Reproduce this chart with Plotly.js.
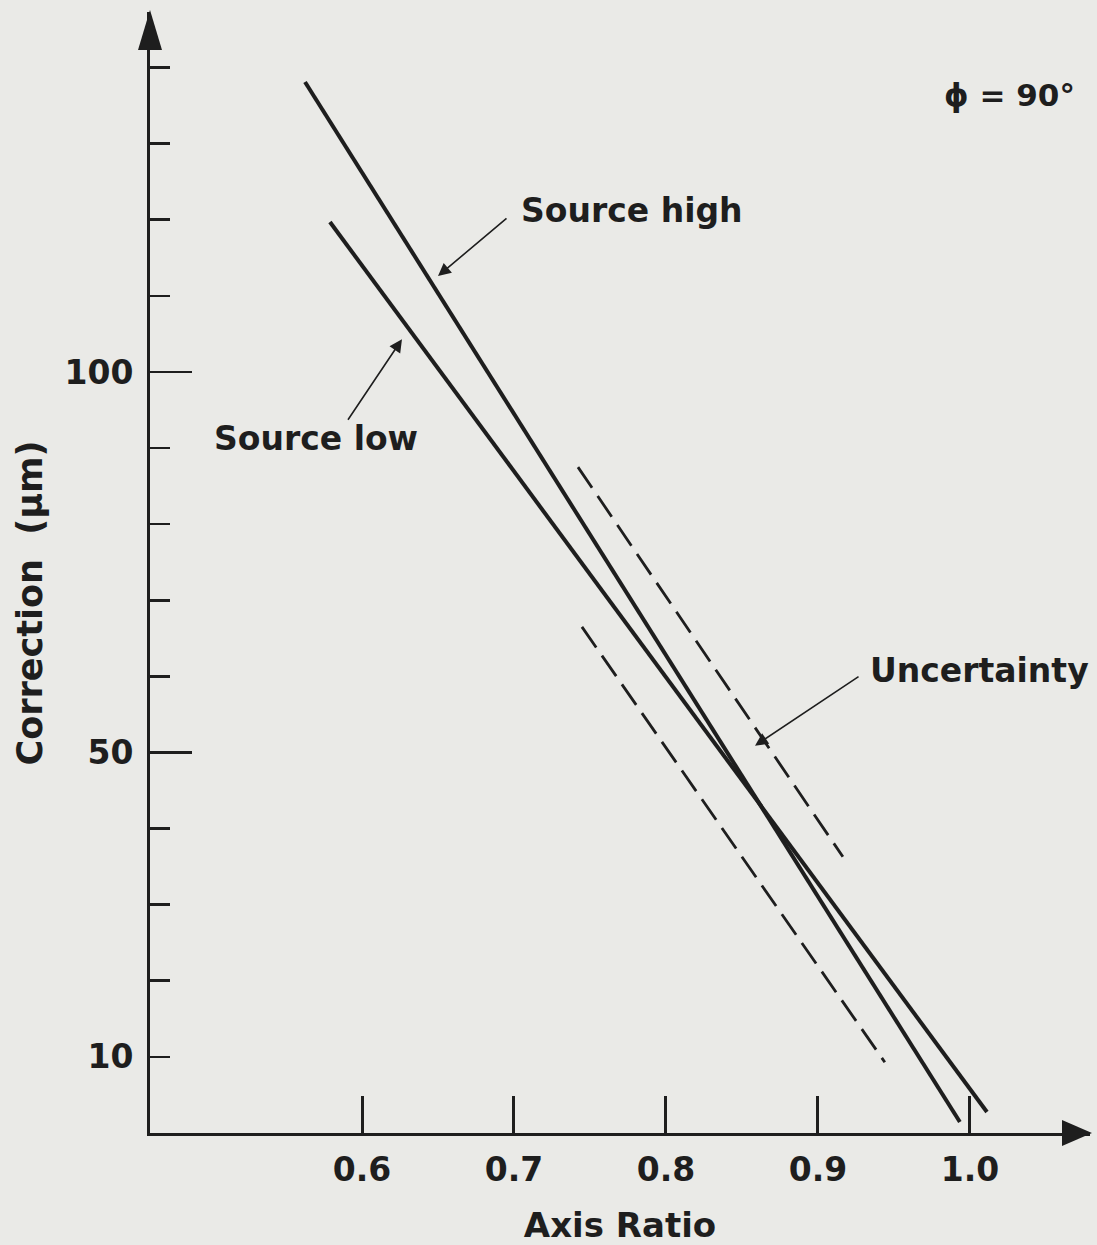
<!DOCTYPE html>
<html>
<head>
<meta charset="utf-8">
<script src="https://cdn.plot.ly/plotly-3.0.1.min.js"></script>
<style>
  html, body { margin: 0; padding: 0; background: #eaeae7; }
  #chart { width: 1097px; height: 1245px; }
</style>
</head>
<body>
<div id="chart"></div>
<script>
// ---- data ----
const sourceHighX = [0.5625, 0.9934];
const sourceHighY = [138.1, 1.45];
const sourceLowX = [0.5789, 1.0112];
const sourceLowY = [119.7, 2.76];
const uncertaintyUpperX = [0.7421, 0.9164];
const uncertaintyUpperY = [87.5, 36.3];
const uncertaintyLowerX = [0.7447, 0.9440];
const uncertaintyLowerY = [66.5, 9.3];

const xTickVals = [0.6, 0.7, 0.8, 0.9, 1.0];
const xTickText = ['0.6', '0.7', '0.8', '0.9', '1.0'];
const yLabelVals = [10, 50, 100];
const yLongTickVals = [50, 100];

const labelSourceHigh = 'Source high';
const labelSourceLow = 'Source low';
const labelUncertainty = 'Uncertainty';
const labelPhi = '\u03D5 = 90\u00B0';
const xTitle = 'Axis Ratio';
const yTitle = 'Correction\u00A0\u00A0(\u03BCm)\u00A0\u00A0\u00A0\u00A0\u00A0\u200B';

// ---- styling ----
const ink = '#1e1e1e';
const fontBase = { family: 'DejaVu Sans, Verdana, sans-serif', color: ink, weight: 'bold' };
const xRange = [0.4605, 1.079];
const yRange = [0, 147.3];

const traces = [
  { x: sourceHighX, y: sourceHighY, mode: 'lines', name: labelSourceHigh,
    line: { color: ink, width: 4 }, hoverinfo: 'skip' },
  { x: sourceLowX, y: sourceLowY, mode: 'lines', name: labelSourceLow,
    line: { color: ink, width: 4 }, hoverinfo: 'skip' },
  { x: uncertaintyUpperX, y: uncertaintyUpperY, mode: 'lines', name: labelUncertainty,
    line: { color: ink, width: 2.8, dash: '25px,10px' }, hoverinfo: 'skip', yaxis: 'y2' },
  { x: uncertaintyLowerX, y: uncertaintyLowerY, mode: 'lines', name: labelUncertainty,
    line: { color: ink, width: 2.8, dash: '25px,10px' }, hoverinfo: 'skip', yaxis: 'y2' }
];

function arrowAnn(xh, yh, ax, ay) {
  return { x: xh, y: yh, xref: 'x', yref: 'y', ax: ax, ay: ay, text: '',
    showarrow: true, arrowhead: 2, arrowsize: 1.6, arrowwidth: 1.6, arrowcolor: ink,
    font: { size: 1 } };
}
function textAnn(x, y, txt, size) {
  return { x: x, y: y, xref: 'x', yref: 'y', text: txt, showarrow: false,
    xanchor: 'center', yanchor: 'middle', font: Object.assign({}, fontBase, { size: size }) };
}

const layout = {
  width: 1097, height: 1245, autosize: false,
  margin: { l: 150, r: 7, t: 12, b: 112, pad: 0 },
  paper_bgcolor: '#eaeae7', plot_bgcolor: '#eaeae7',
  showlegend: false,
  font: Object.assign({}, fontBase, { size: 33 }),
  xaxis: {
    range: xRange, showgrid: false, zeroline: false,
    showline: true, linecolor: ink, linewidth: 3,
    tickmode: 'array', tickvals: xTickVals, ticktext: xTickText,
    ticks: 'inside', ticklen: 37, tickwidth: 3, tickcolor: ink,
    ticklabelstandoff: 5,
    tickfont: Object.assign({}, fontBase, { size: 33 }),
    title: { text: xTitle, font: Object.assign({}, fontBase, { size: 34 }), standoff: 29 }
  },
  yaxis: {
    range: yRange, showgrid: false, zeroline: false,
    showline: true, linecolor: ink, linewidth: 3,
    tickmode: 'array', tickvals: yLabelVals,
    ticks: 'inside', ticklen: 20, tickwidth: 2.6, tickcolor: ink,
    ticklabelstandoff: 7,
    tickfont: Object.assign({}, fontBase, { size: 33 }),
    minor: { tick0: 0, dtick: 10, ticks: 'inside', ticklen: 20, tickwidth: 2.6, tickcolor: ink, showgrid: false },
    title: { text: yTitle, font: Object.assign({}, fontBase, { size: 35 }), standoff: 12 }
  },
  yaxis2: {
    range: yRange, overlaying: 'y', anchor: 'x', side: 'left',
    showgrid: false, zeroline: false, showline: false,
    tickmode: 'array', tickvals: yLongTickVals, showticklabels: false,
    ticks: 'inside', ticklen: 42, tickwidth: 2.6, tickcolor: ink
  },
  shapes: [
    { type: 'path', xref: 'paper', yref: 'paper', xsizemode: 'pixel', ysizemode: 'pixel',
      xanchor: 1, yanchor: 0, path: 'M2,0 L-28,13 L-28,-13 Z',
      fillcolor: ink, line: { width: 0 } },
    { type: 'path', xref: 'paper', yref: 'paper', xsizemode: 'pixel', ysizemode: 'pixel',
      xanchor: 0, yanchor: 1, path: 'M0,2 L-12,-38 L12,-38 Z',
      fillcolor: ink, line: { width: 0 } }
  ],
  annotations: [
    textAnn(0.7776, 121.2, labelSourceHigh, 33),
    textAnn(0.5697, 91.3, labelSourceLow, 33),
    textAnn(1.0066, 60.8, labelUncertainty, 33),
    textAnn(1.0263, 136.4, labelPhi, 31),
    arrowAnn(0.6500, 112.6, 70, -59),
    arrowAnn(0.6263, 104.3, -55, 82),
    arrowAnn(0.8586, 50.9, 105, -70)
  ]
};

Plotly.newPlot('chart', traces, layout, { displayModeBar: false, staticPlot: true });
</script>
</body>
</html>
